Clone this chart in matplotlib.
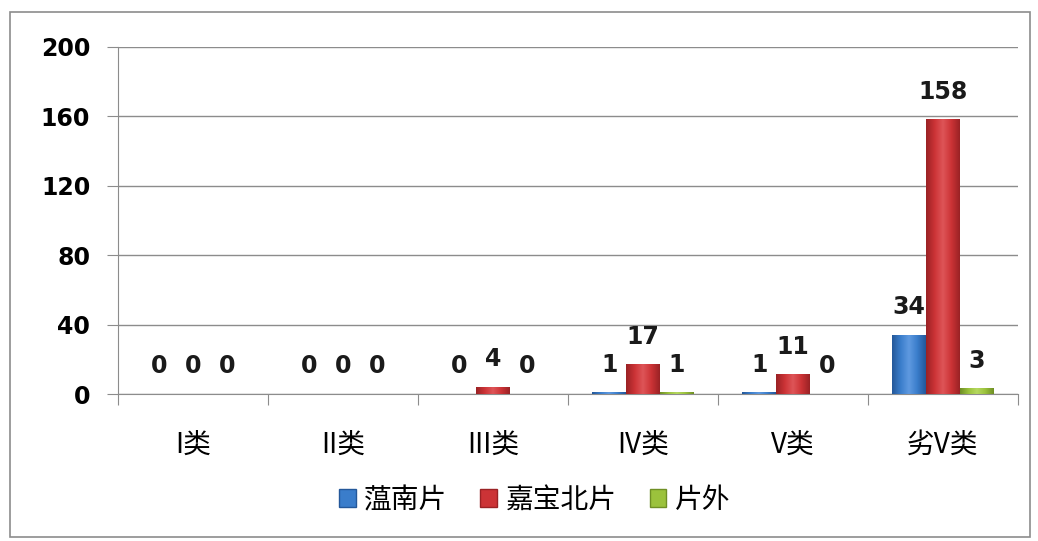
import matplotlib
matplotlib.use("Agg")
import matplotlib.pyplot as plt
import numpy as np
from matplotlib.colors import LinearSegmentedColormap
from matplotlib.patches import Rectangle

categories = ["I类", "II类", "III类", "IV类", "V类", "劣V类"]
series_names = ["蕰南片", "嘉宝北片", "片外"]
wennan = [0, 0, 0, 1, 1, 34]
jiabao = [0, 0, 4, 17, 11, 158]
pianwai = [0, 0, 0, 1, 0, 3]
y_ticks = [0, 40, 80, 120, 160, 200]

series = [wennan, jiabao, pianwai]
base_colors = ["#3A7DCB", "#CC3336", "#9BC23C"]
dark_colors = ["#24589A", "#9A2225", "#6F8F25"]
light_colors = ["#5F9AE0", "#DE5558", "#B5D860"]

cjk = ["Noto Sans CJK SC", "DejaVu Sans"]
plt.rcParams["font.family"] = cjk

fig = plt.figure(figsize=(10.38, 5.41), dpi=100)
fig.patches.append(Rectangle((10/1038, 1-537/541), 1020/1038, 525/541,
                             transform=fig.transFigure, fill=False,
                             edgecolor="#8C8C8C", linewidth=1.2))
ax = fig.add_axes([118/1038, 1-394/541, 900/1038, 347/541])

n = len(categories)
x = np.arange(n)
w = 0.225
for i, (vals, c, d, l) in enumerate(zip(series, base_colors, dark_colors, light_colors)):
    cmap = LinearSegmentedColormap.from_list("g%d" % i, [d, c, l, c, d])
    grad = np.linspace(0, 1, 64).reshape(1, -1)
    offs = (i - 1) * w
    for xi, v in zip(x, vals):
        x0 = xi + offs - w / 2
        if v > 0:
            ax.imshow(grad, extent=(x0, x0 + w, 0, v), aspect="auto", cmap=cmap,
                      zorder=3, interpolation="bilinear")
        ax.text(xi + offs, v + 9, str(v), ha="center", va="bottom",
                fontsize=17, fontweight="bold", color="#1a1a1a",
                family="DejaVu Sans", zorder=5)

ax.set_xlim(-0.5, n - 0.5)
ax.set_ylim(0, 200)
ax.set_yticks(y_ticks)
ax.set_yticklabels([str(t) for t in y_ticks], fontsize=17, fontweight="bold",
                   family="DejaVu Sans")
ax.yaxis.grid(True, color="#8C8C8C", linewidth=1.0)
ax.set_axisbelow(True)
ax.tick_params(axis="y", length=8, color="#8C8C8C", pad=12)

ax.set_xticks(np.arange(-0.5, n, 1.0))
ax.set_xticklabels([])
ax.set_xticks(x, minor=True)
ax.set_xticklabels(categories, minor=True, fontsize=20)
ax.tick_params(axis="x", which="major", length=8, color="#8C8C8C", direction="out")
ax.tick_params(axis="x", which="minor", length=0, pad=26)

for s in ["top", "right"]:
    ax.spines[s].set_visible(False)
for s in ["left", "bottom"]:
    ax.spines[s].set_color("#8C8C8C")

handles = [Rectangle((0, 0), 1, 1, facecolor=c, edgecolor=d) for c, d in zip(base_colors, dark_colors)]
fig.legend(handles, series_names, loc="center", bbox_to_anchor=(0.515, 1 - 500/541),
           ncol=3, frameon=False, fontsize=20, handlelength=0.6, handleheight=0.6,
           handletextpad=0.3, columnspacing=1.2)

fig.savefig("out.png", dpi=100)
